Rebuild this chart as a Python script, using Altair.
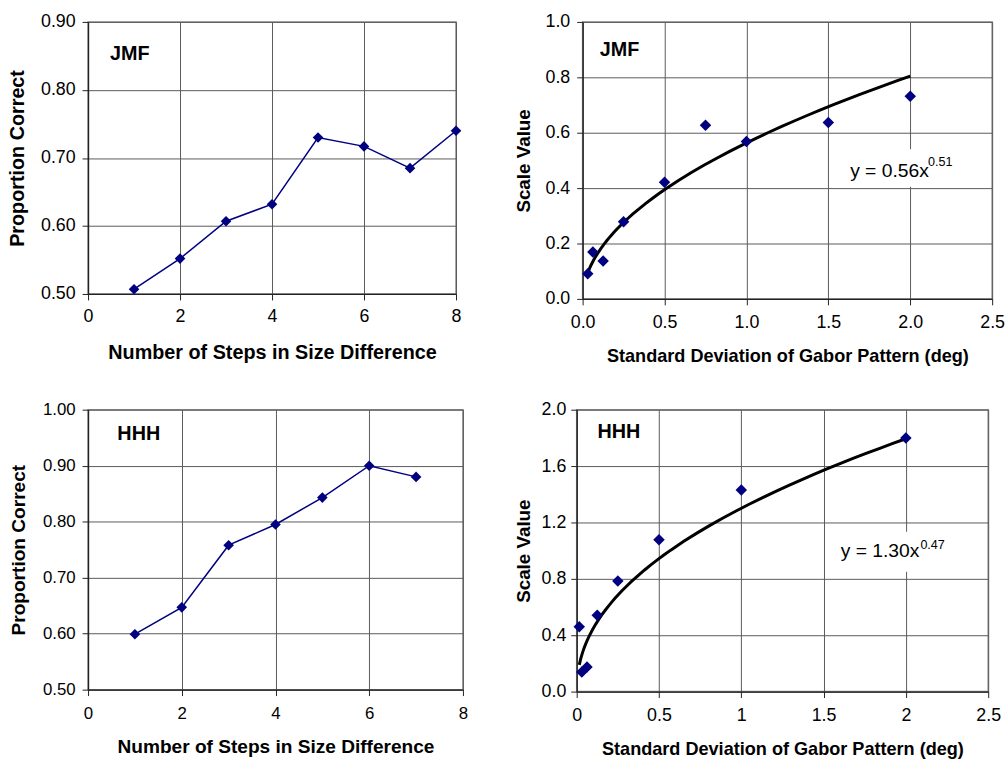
import altair as alt
import pandas as pd

# ---------------- data ----------------
steps_jmf = [1, 2, 3, 4, 5, 6, 7, 8]
prop_jmf = [0.507, 0.552, 0.607, 0.632, 0.730, 0.717, 0.685, 0.740]

steps_hhh = [1, 2, 3, 4, 5, 6, 7]
prop_hhh = [0.599, 0.647, 0.758, 0.795, 0.843, 0.900, 0.880]

sd_jmf = [0.03125, 0.0625, 0.125, 0.25, 0.5, 0.75, 1.0, 1.5, 2.0]
scale_jmf = [0.091, 0.169, 0.137, 0.279, 0.421, 0.627, 0.568, 0.637, 0.732]

sd_hhh = [0.015625, 0.03125, 0.0625, 0.125, 0.25, 0.5, 1.0, 2.0]
scale_hhh = [0.460, 0.140, 0.175, 0.542, 0.785, 1.077, 1.430, 1.799]

x_ticks_steps = [0, 2, 4, 6, 8]
y_ticks_jmf_prop = [0.5, 0.6, 0.7, 0.8, 0.9]
y_ticks_hhh_prop = [0.5, 0.6, 0.7, 0.8, 0.9, 1.0]
x_ticks_sd = [0, 0.5, 1.0, 1.5, 2.0, 2.5]
y_ticks_jmf_scale = [0, 0.2, 0.4, 0.6, 0.8, 1.0]
y_ticks_hhh_scale = [0, 0.4, 0.8, 1.2, 1.6, 2.0]

NAVY = "#000080"
FONT = "Liberation Sans"


def prop_panel(steps, props, label, lab_pos, ydom, yvals, w, h,
               lab_size, title_size, ytitle_pad, xtitle_pad, lab_pad):
    df = pd.DataFrame({"x": steps, "y": props})
    xs = alt.X("x:Q",
               scale=alt.Scale(domain=[0, 8], nice=False, zero=False),
               axis=alt.Axis(values=x_ticks_steps, format="d",
                             title="Number of Steps in Size Difference",
                             labelFontSize=lab_size, titleFontSize=title_size,
                             titlePadding=xtitle_pad, labelPadding=lab_pad,
                             labelFlush=False))
    ys = alt.Y("y:Q",
               scale=alt.Scale(domain=ydom, nice=False, zero=False),
               axis=alt.Axis(values=yvals, format=".2f",
                             title="Proportion Correct",
                             labelFontSize=lab_size, titleFontSize=title_size,
                             titlePadding=ytitle_pad, labelPadding=7,
                             labelFlush=False))
    base = alt.Chart(df)
    line = base.mark_line(color=NAVY, strokeWidth=1.5).encode(x=xs, y=ys)
    pts = base.mark_point(shape="diamond", filled=True, color=NAVY,
                          size=115, opacity=1).encode(x=xs, y=ys)
    lab = alt.Chart(pd.DataFrame({"x": [lab_pos[0]], "y": [lab_pos[1]], "t": [label]})).mark_text(
        align="left", baseline="middle", fontWeight="bold", fontSize=20, color="black"
    ).encode(x=xs, y=ys, text="t:N")
    return alt.layer(line, pts, lab).properties(width=w, height=h)


def scale_panel(sd, sc, label, lab_pos, ydom, yvals, xfmt, eq_main, eq_sup,
                main_pos, sup_pos, box, w, h, ytitle_pad, lab_pad_y, xtitle_pad):
    df = pd.DataFrame({"x": sd, "y": sc})
    xs = alt.X("x:Q",
               scale=alt.Scale(domain=[0, 2.5], nice=False, zero=False),
               axis=alt.Axis(values=x_ticks_sd, format=xfmt,
                             title="Standard Deviation of Gabor Pattern (deg)",
                             labelFontSize=18, titleFontSize=18.3,
                             titlePadding=xtitle_pad, labelPadding=9,
                             labelFlush=False))
    ys = alt.Y("y:Q",
               scale=alt.Scale(domain=ydom, nice=False, zero=False),
               axis=alt.Axis(values=yvals, format=".1f",
                             title="Scale Value",
                             labelFontSize=18, titleFontSize=19,
                             titlePadding=ytitle_pad, labelPadding=lab_pad_y,
                             labelFlush=False))
    base = alt.Chart(df)
    rect = alt.Chart(pd.DataFrame({"x": [box[0]], "x2": [box[1]], "y": [box[2]], "y2": [box[3]]})).mark_rect(
        fill="white"
    ).encode(x=xs, x2="x2:Q", y=ys, y2="y2:Q")
    curve = base.transform_regression("x", "y", method="pow").mark_line(
        color="black", strokeWidth=3
    ).encode(x=xs, y=ys)
    pts = base.mark_point(shape="diamond", filled=True, color=NAVY,
                          size=135, opacity=1).encode(x=xs, y=ys)
    lab = alt.Chart(pd.DataFrame({"x": [lab_pos[0]], "y": [lab_pos[1]], "t": [label]})).mark_text(
        align="left", baseline="middle", fontWeight="bold", fontSize=20, color="black"
    ).encode(x=xs, y=ys, text="t:N")
    eq1 = alt.Chart(pd.DataFrame({"x": [main_pos[0]], "y": [main_pos[1]], "t": [eq_main]})).mark_text(
        align="left", baseline="middle", fontSize=19.5, color="black"
    ).encode(x=xs, y=ys, text="t:N")
    eq2 = alt.Chart(pd.DataFrame({"x": [sup_pos[0]], "y": [sup_pos[1]], "t": [eq_sup]})).mark_text(
        align="left", baseline="middle", fontSize=12.7, color="black"
    ).encode(x=xs, y=ys, text="t:N")
    return alt.layer(rect, curve, pts, lab, eq1, eq2).properties(width=w, height=h)


tl = prop_panel(steps_jmf, prop_jmf, "JMF", (0.48, 0.8525), [0.5, 0.9], y_ticks_jmf_prop,
                372, 275, 18, 20, 13, 17, 8)
bl = prop_panel(steps_hhh, prop_hhh, "HHH", (0.626, 0.957), [0.5, 1.0], y_ticks_hhh_prop,
                379, 283, 17, 19.3, 14, 17, 10)
tr = scale_panel(sd_jmf, scale_jmf, "JMF", (0.105, 0.898), [0, 1.0], y_ticks_jmf_scale, ".1f",
                 "y = 0.56x", "0.51", (1.633, 0.463), (2.108, 0.495),
                 (1.6, 2.3, 0.405, 0.54), 414, 280, 12, 7, 16)
br = scale_panel(sd_hhh, scale_hhh, "HHH", (0.126, 1.839), [0, 2.0], y_ticks_hhh_scale, "~g",
                 "y = 1.30x", "0.47", (1.604, 0.995), (2.088, 1.04),
                 (1.58, 2.28, 0.85, 1.135), 416, 285, 8, 5, 17)

chart = alt.concat(tl, tr, bl, br, columns=2, align="none", bounds="full",
                   spacing={"row": 34, "column": 45}).properties(
    padding={"left": 7, "top": 8, "right": 0, "bottom": 0},
    background="white",
).configure_axis(
    labelFont=FONT, titleFont=FONT, labelColor="black", titleColor="black",
    titleFontWeight="bold", grid=True, gridColor="#5a5a5a", gridWidth=1,
    domainColor="#222222", domainWidth=1.3, tickColor="#222222", tickSize=6,
).configure_view(
    stroke="#8a8a8a", strokeWidth=1.5,
).configure_text(font=FONT)

chart.save("out.html", embed_options={"renderer": "svg", "actions": False})
